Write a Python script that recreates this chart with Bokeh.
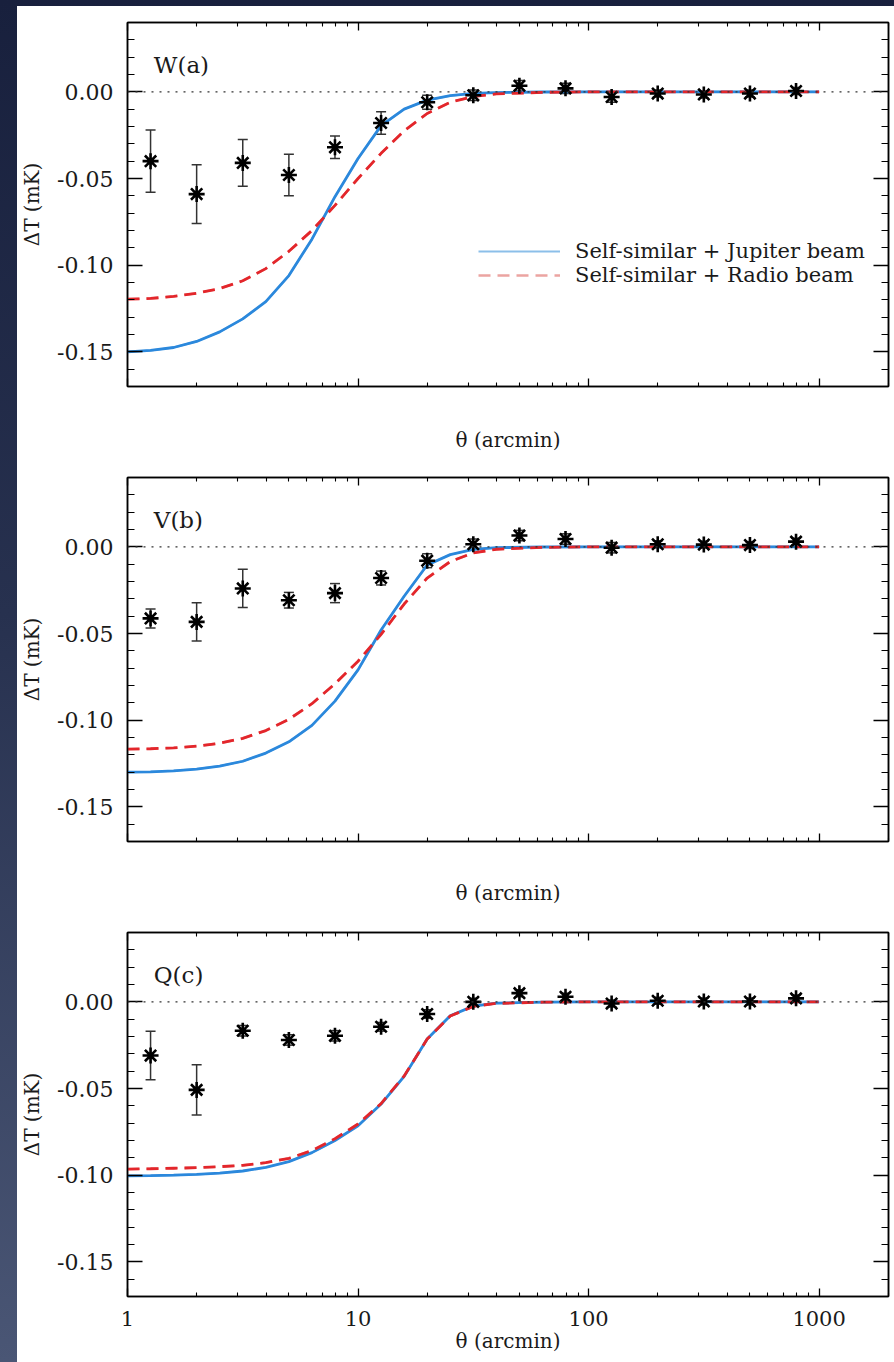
from bokeh.plotting import figure
from bokeh.models import (LogAxis, LinearAxis, FixedTicker, SingleIntervalTicker,
                          NumeralTickFormatter, Whisker, TeeHead, ColumnDataSource,
                          Span, Legend, LegendItem, Range1d, Spacer)
from bokeh.layouts import column, row
from bokeh.core.properties import value
from bokeh.embed import file_html
from bokeh.resources import INLINE

FONT = "DejaVu Serif"

# ---------------- data ----------------
theta_pts = [1.259, 1.995, 3.162, 5.012, 7.943, 12.59, 19.95, 31.62,
             50.12, 79.43, 125.9, 199.5, 316.2, 501.2, 794.3]

W_pts = [-0.040, -0.059, -0.041, -0.048, -0.032, -0.018, -0.006, -0.002,
         0.0035, 0.002, -0.003, -0.001, -0.0015, -0.001, 0.0005]
W_err = [0.018, 0.017, 0.0135, 0.012, 0.0065, 0.0065, 0.004, 0.003,
         0.003, 0.003, 0.003, 0.002, 0.002, 0.002, 0.002]

V_pts = [-0.0413, -0.0433, -0.024, -0.0308, -0.0267, -0.018, -0.008, 0.0015,
         0.0065, 0.0045, -0.0005, 0.0015, 0.0013, 0.001, 0.003]
V_err = [0.0055, 0.011, 0.011, 0.0045, 0.0055, 0.004, 0.004, 0.003,
         0.003, 0.003, 0.003, 0.002, 0.002, 0.002, 0.002]

Q_pts = [-0.031, -0.0508, -0.0167, -0.022, -0.0196, -0.0144, -0.007, 0.000,
         0.005, 0.0029, -0.001, 0.0006, 0.0002, 0.0002, 0.002]
Q_err = [0.014, 0.0145, 0.003, 0.003, 0.003, 0.0025, 0.0025, 0.002,
         0.002, 0.002, 0.002, 0.002, 0.002, 0.002, 0.002]

theta_curve = [1.0, 1.259, 1.585, 1.995, 2.512, 3.162, 3.981, 5.012, 6.310, 7.943,
               10.0, 12.59, 15.85, 19.95, 25.12, 31.62, 39.81, 63.10, 100.0, 316.2, 1000.0]

W_jup = [-0.1500, -0.1492, -0.1475, -0.1440, -0.1385, -0.1310, -0.1210, -0.1060, -0.0850, -0.0605,
         -0.0385, -0.0195, -0.0100, -0.0048, -0.0022, -0.0009, -0.0004, -0.0001, 0.0, 0.0, 0.0]
W_rad = [-0.1196, -0.1192, -0.1180, -0.1162, -0.1135, -0.1090, -0.1020, -0.0920, -0.0800, -0.0655,
         -0.0500, -0.0355, -0.0225, -0.0125, -0.0060, -0.0027, -0.0012, -0.0003, 0.0, 0.0, 0.0]

V_jup = [-0.1300, -0.1298, -0.1292, -0.1282, -0.1265, -0.1237, -0.1190, -0.1125, -0.1030, -0.0890,
         -0.0710, -0.0480, -0.0285, -0.0105, -0.0045, -0.0015, -0.0005, -0.0001, 0.0, 0.0, 0.0]
V_rad = [-0.1167, -0.1165, -0.1160, -0.1150, -0.1133, -0.1105, -0.1060, -0.0995, -0.0905, -0.0790,
         -0.0660, -0.0505, -0.0330, -0.0180, -0.0085, -0.0035, -0.0014, -0.0003, 0.0, 0.0, 0.0]

Q_jup = [-0.1004, -0.1003, -0.1000, -0.0996, -0.0988, -0.0976, -0.0955, -0.0922, -0.0870, -0.0800,
         -0.0715, -0.0590, -0.0430, -0.0215, -0.0080, -0.0025, -0.0008, -0.0002, 0.0, 0.0, 0.0]
Q_rad = [-0.0965, -0.0963, -0.0960, -0.0957, -0.0951, -0.0943, -0.0928, -0.0903, -0.0858, -0.0790,
         -0.0705, -0.0587, -0.0428, -0.0215, -0.0082, -0.0026, -0.0009, -0.0002, 0.0, 0.0, 0.0]

panel_labels = ["W(a)", "V(b)", "Q(c)"]
legend_labels = ["Self-similar + Jupiter beam", "Self-similar + Radio beam"]
x_major = [1, 10, 100, 1000]
x_title = "θ (arcmin)"
y_title = "ΔT (mK)"

BLUE = "#2b88dc"
RED = "#e3262b"
BLUE_PALE = "#8cbfe9"
RED_PALE = "#eba4a1"

x_minor = [m * 10 ** e for e in range(0, 4) for m in range(2, 10)]


def style_axis(ax, is_x, show_labels):
    ax.axis_line_color = "black"
    ax.axis_line_width = 1.5
    ax.major_tick_line_color = "black"
    ax.minor_tick_line_color = "black"
    ax.major_tick_line_width = 1.3
    ax.minor_tick_line_width = 1.1
    ax.major_tick_out = 0
    ax.minor_tick_out = 0
    if is_x:
        ax.major_tick_in = 8
        ax.minor_tick_in = 4
        ax.major_label_text_font_size = "21px"
    else:
        ax.major_tick_in = 15
        ax.minor_tick_in = 7
        ax.major_label_text_font_size = "22px"
    ax.major_label_text_font = FONT
    ax.major_label_text_color = "#1a1a1a" if show_labels else None
    ax.axis_label_text_font = FONT
    ax.axis_label_text_font_size = "20px"
    ax.axis_label_text_font_style = "normal"
    ax.axis_label_text_color = "#1a1a1a"


def make_panel(label, pts, errs, jup, rad, height, top_b, bottom, show_x,
               label_standoff, title_standoff, with_legend):
    p = figure(width=877, height=height, x_axis_type="log",
               x_range=Range1d(1, 2000), y_range=Range1d(-0.17, 0.04),
               output_backend="svg", toolbar_location=None,
               min_border_left=105, min_border_right=6, min_border_top=top_b,
               min_border_bottom=bottom)
    p.background_fill_color = "white"
    p.border_fill_color = "white"
    p.outline_line_color = "black"
    p.outline_line_width = 1.5
    p.xgrid.visible = False
    p.ygrid.visible = False

    xt = FixedTicker(ticks=x_major, minor_ticks=x_minor + [2000])
    yt = SingleIntervalTicker(interval=0.05, num_minor_ticks=5)

    xa = p.xaxis[0]
    xa.ticker = xt
    xa.formatter = NumeralTickFormatter(format="0")
    style_axis(xa, True, show_x)
    xa.major_label_standoff = label_standoff
    xa.axis_label = x_title
    xa.axis_label_standoff = title_standoff

    ya = p.yaxis[0]
    ya.ticker = yt
    ya.formatter = NumeralTickFormatter(format="0.00")
    style_axis(ya, False, True)
    ya.major_label_standoff = 14
    ya.axis_label = y_title
    ya.axis_label_standoff = 10

    top = LogAxis(ticker=xt)
    style_axis(top, True, False)
    top.major_label_text_font_size = "0px"
    top.major_label_standoff = 0
    p.add_layout(top, "above")

    right = LinearAxis(ticker=yt)
    style_axis(right, False, False)
    right.major_label_text_font_size = "0px"
    right.major_label_standoff = 0
    p.add_layout(right, "right")

    p.add_layout(Span(location=0, dimension="width", line_color="#333333",
                      line_dash="2 6", line_width=1.3))

    # pale copies (hidden beneath the real curves) serve as legend proxies
    lj = p.line(theta_curve, jup, line_color=BLUE_PALE, line_width=2.0)
    lr = p.line(theta_curve, rad, line_color=RED_PALE, line_width=2.4, line_dash="12 7")

    p.line(theta_curve, jup, line_color=BLUE, line_width=2.8)
    p.line(theta_curve, rad, line_color=RED, line_width=2.8, line_dash="12 7")

    src = ColumnDataSource(dict(x=theta_pts, y=pts,
                                upper=[v + e for v, e in zip(pts, errs)],
                                lower=[v - e for v, e in zip(pts, errs)]))
    p.add_layout(Whisker(base="x", upper="upper", lower="lower", source=src,
                         line_color="#333333", line_width=1.5,
                         upper_head=TeeHead(size=10, line_color="#333333", line_width=1.5),
                         lower_head=TeeHead(size=10, line_color="#333333", line_width=1.5)))
    p.scatter("x", "y", source=src, marker="asterisk", size=16,
              line_color="black", line_width=2.6)

    p.text(x=[1.3], y=[0.0155], text=[label], text_font=value(FONT),
           text_font_size="23px", text_baseline="middle", text_color="#1a1a1a")

    if with_legend:
        leg = Legend(items=[LegendItem(label=legend_labels[0], renderers=[lj]),
                            LegendItem(label=legend_labels[1], renderers=[lr])],
                     location=(351, 99), border_line_color=None,
                     background_fill_alpha=0, label_text_font=FONT,
                     label_text_font_size="21px", label_text_color="#1a1a1a",
                     glyph_width=82, glyph_height=20, label_height=20,
                     label_standoff=15, spacing=0, padding=0, margin=0)
        p.add_layout(leg)
    return p


f1 = make_panel(panel_labels[0], W_pts, W_err, W_jup, W_rad, 455, 16, 75, False, 8, 41, True)
f2 = make_panel(panel_labels[1], V_pts, V_err, V_jup, V_rad, 455, 16, 75, False, 8, 39, False)
f3 = make_panel(panel_labels[2], Q_pts, Q_err, Q_jup, Q_rad, 446, 16, 66, True, 14, 0, False)

panels = column(f1, f2, f3, spacing=0, styles={"background": "white"})
page = column(Spacer(height=6), row(Spacer(width=17), panels, spacing=0), spacing=0,
              styles={"background": "linear-gradient(180deg, #18203d 0%, #27314f 45%, #4a5675 100%)"})

open("out.html", "w").write(file_html(page, INLINE))
